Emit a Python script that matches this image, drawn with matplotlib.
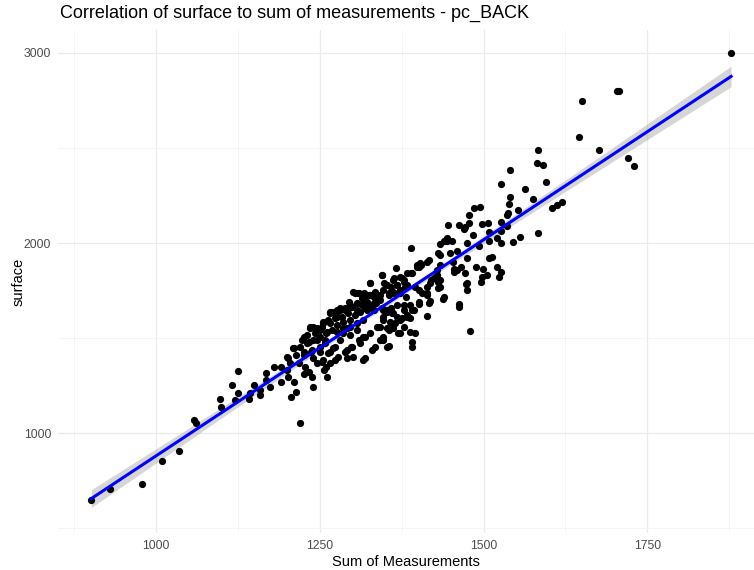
import numpy as np
import matplotlib
matplotlib.use("Agg")
import matplotlib.pyplot as plt
from matplotlib.ticker import FixedLocator

plt.rcParams['font.family'] = ['Liberation Sans', 'DejaVu Sans']

low_tail = [(901, 647), (929, 707), (978, 732), (1009, 854), (1035, 907), (1057, 1068), (1061, 1051),
            (1098, 1177), (1099, 1139), (1115, 1253), (1120, 1174), (1125, 1209), (1125, 1328),
            (1142, 1177), (1144, 1209), (1149, 1253), (1158, 1200), (1159, 1226), (1167, 1314),
            (1168, 1279), (1174, 1244), (1180, 1346), (1191, 1270), (1201, 1296), (1210, 1270),
            (1214, 1218), (1206, 1191), (1219, 1051), (1218, 1367), (1228, 1349), (1233, 1323),
            (1238, 1297), (1240, 1244), (1226, 1311), (1190, 1349), (1199, 1332), (1205, 1367),
            (1246, 1367), (1256, 1332), (1260, 1349), (1253, 1376), (1261, 1297)]

cluster_left = [(1309, 1735), (1321, 1727), (1316, 1683), (1296, 1674), (1306, 1648), (1293, 1630),
                (1281, 1648), (1276, 1613), (1265, 1630), (1265, 1578), (1255, 1578), (1240, 1560),
                (1235, 1551), (1250, 1542), (1260, 1525), (1276, 1534), (1286, 1551), (1296, 1560),
                (1306, 1578), (1316, 1595), (1321, 1657), (1319, 1507), (1311, 1472), (1316, 1385),
                (1298, 1455), (1288, 1429), (1278, 1402), (1270, 1446), (1258, 1472), (1245, 1490),
                (1230, 1472), (1220, 1455), (1209, 1446), (1202, 1393), (1214, 1411), (1225, 1429),
                (1237, 1429), (1250, 1429), (1263, 1420), (1273, 1385), (1255, 1385), (1240, 1393),
                (1291, 1393), (1301, 1402), (1265, 1367)]

cluster_mid = [(1366, 1867), (1345, 1832), (1383, 1841), (1375, 1814), (1362, 1806), (1327, 1788),
               (1348, 1788), (1367, 1779), (1380, 1770), (1373, 1735), (1355, 1735), (1342, 1727),
               (1334, 1744), (1327, 1727), (1306, 1735), (1301, 1744), (1314, 1709), (1322, 1683),
               (1294, 1692), (1299, 1665), (1289, 1648), (1281, 1656), (1276, 1639), (1266, 1639),
               (1283, 1613), (1273, 1604), (1263, 1595), (1255, 1586), (1253, 1560), (1245, 1551),
               (1235, 1560), (1243, 1525), (1230, 1516), (1225, 1507), (1222, 1490), (1233, 1481),
               (1240, 1490), (1250, 1507), (1261, 1534), (1268, 1542), (1276, 1569), (1286, 1586),
               (1296, 1595), (1304, 1621), (1311, 1639), (1319, 1656), (1327, 1665), (1332, 1683),
               (1337, 1700), (1345, 1656), (1352, 1639), (1360, 1630), (1367, 1613), (1375, 1604),
               (1383, 1621), (1378, 1560), (1370, 1525), (1362, 1551), (1355, 1542), (1347, 1507),
               (1342, 1490), (1334, 1455), (1329, 1437), (1352, 1455), (1319, 1393), (1299, 1455),
               (1291, 1437), (1281, 1490), (1273, 1455), (1266, 1428), (1258, 1490), (1250, 1455),
               (1238, 1437), (1210, 1446), (1199, 1402), (1225, 1411), (1309, 1490), (1316, 1507),
               (1327, 1525), (1337, 1560), (1347, 1595), (1306, 1542), (1296, 1516), (1291, 1551),
               (1286, 1525)]

cluster_upper = [(1399, 1884), (1391, 1841), (1373, 1823), (1378, 1806), (1363, 1814), (1368, 1779),
                 (1383, 1779), (1358, 1770), (1347, 1753), (1345, 1832), (1327, 1788), (1304, 1735),
                 (1317, 1735), (1325, 1727), (1332, 1718), (1322, 1692), (1314, 1674), (1307, 1683),
                 (1297, 1665), (1289, 1656), (1276, 1648), (1269, 1639), (1335, 1683), (1342, 1700),
                 (1355, 1727), (1363, 1735), (1373, 1744), (1381, 1718), (1388, 1674), (1393, 1648),
                 (1401, 1692), (1368, 1674), (1358, 1656), (1347, 1648), (1332, 1648), (1322, 1648),
                 (1378, 1648)]

cluster_right = [(1473, 1784), (1496, 1796), (1438, 1703), (1463, 1679), (1462, 1665), (1414, 1616),
                 (1480, 1538), (1418, 1696), (1416, 1682), (1401, 1679), (1395, 1770), (1406, 1735),
                 (1413, 1735), (1418, 1787), (1431, 1796), (1434, 1770), (1378, 1673), (1390, 1647),
                 (1383, 1612), (1388, 1603), (1373, 1595), (1365, 1577), (1357, 1586), (1347, 1612),
                 (1352, 1647), (1362, 1630), (1342, 1559), (1352, 1551), (1360, 1551), (1373, 1524),
                 (1388, 1533), (1395, 1528), (1390, 1480), (1390, 1454), (1347, 1489), (1355, 1458),
                 (1378, 1796), (1373, 1752), (1362, 1744), (1352, 1779)]

upper_band = [(1389, 1972), (1445, 2095), (1462, 2095), (1439, 2008), (1444, 2008), (1452, 2011),
              (1434, 1995), (1430, 1950), (1434, 1937), (1449, 1946), (1460, 1960), (1475, 1999),
              (1475, 1920), (1416, 1911), (1414, 1902), (1403, 1893), (1401, 1872), (1389, 1841),
              (1453, 1902), (1455, 1862), (1459, 1858), (1472, 1841), (1429, 1832), (1434, 1806),
              (1431, 1762), (1419, 1806), (1414, 1771), (1475, 1788), (1475, 1753), (1439, 1718),
              (1401, 1753), (1414, 1727), (1493, 1984), (1509, 2012), (1404, 1884), (1398, 1876),
              (1429, 1858), (1434, 1884), (1455, 1849), (1465, 1872), (1488, 1872), (1499, 1862),
              (1498, 1819), (1509, 1919), (1513, 1928), (1521, 1876), (1526, 1849), (1523, 1823),
              (1505, 1832), (1424, 1814)]

high_tail = [(1494, 2187), (1486, 2182), (1477, 2147), (1477, 2103), (1472, 2082), (1470, 2072),
             (1498, 2100), (1506, 2103), (1509, 2059), (1526, 2065), (1536, 2089), (1484, 2042),
             (1521, 2024), (1444, 2025),
             (1878, 3001), (1704, 2800), (1707, 2800), (1651, 2747), (1645, 2559), (1676, 2489),
             (1721, 2447), (1730, 2404), (1583, 2488), (1582, 2419), (1590, 2412), (1541, 2383),
             (1527, 2310), (1596, 2319), (1563, 2284), (1540, 2240), (1575, 2233), (1539, 2203),
             (1552, 2174), (1537, 2159), (1535, 2146), (1605, 2184), (1612, 2202), (1619, 2214),
             (1526, 2112), (1583, 2054), (1555, 2033), (1545, 2005), (1527, 1998)]

x_major = [1000, 1250, 1500, 1750]
x_minor = [875, 1125, 1375, 1625, 1875]
y_major = [1000, 2000, 3000]
y_minor = [500, 1500, 2500]

pts = np.array(low_tail + cluster_left + cluster_mid + cluster_upper +
               cluster_right + upper_band + high_tail, dtype=float)
x = pts[:, 0]
y = pts[:, 1]

# linear fit with 95% confidence band (like geom_smooth(method='lm'))
b, a = np.polyfit(x, y, 1)
n = len(x)
resid = y - (a + b * x)
s = np.sqrt(np.sum(resid ** 2) / (n - 2))
sxx = np.sum((x - x.mean()) ** 2)
xf = np.linspace(x.min(), x.max(), 200)
yf = a + b * xf
se = s * np.sqrt(1.0 / n + (xf - x.mean()) ** 2 / sxx)
tval = 1.966

fig = plt.figure(figsize=(7.54, 5.70), dpi=100)
ax = fig.add_axes([58 / 754, 37 / 570, 696 / 754, 503 / 570])

ax.fill_between(xf, yf - tval * se, yf + tval * se, color='#999999', alpha=0.4, lw=0, zorder=2)
ax.scatter(x, y, s=27, color='black', lw=0, zorder=3)
ax.plot(xf, yf, color='#0000FF', lw=2.2, zorder=4)

ax.set_xlim(850, 1913)
ax.set_ylim(474, 3121)
ax.xaxis.set_major_locator(FixedLocator(x_major))
ax.xaxis.set_minor_locator(FixedLocator(x_minor))
ax.yaxis.set_major_locator(FixedLocator(y_major))
ax.yaxis.set_minor_locator(FixedLocator(y_minor))
ax.grid(which='major', color='#EBEBEB', lw=0.9, zorder=0)
ax.grid(which='minor', color='#F2F2F2', lw=0.5, zorder=0)
ax.set_axisbelow(True)
for sp in ax.spines.values():
    sp.set_visible(False)
ax.tick_params(which='both', length=0, labelsize=8.8, labelcolor='#4D4D4D')
ax.tick_params(axis='x', pad=5)
ax.tick_params(axis='y', pad=5)

ax.set_xlabel('Sum of Measurements', fontsize=10.5, labelpad=2)
ax.set_ylabel('surface', fontsize=10.5, labelpad=-1)
fig.text(60 / 754, 1 - 13 / 570, 'Correlation of surface to sum of measurements - pc_BACK',
         fontsize=13, ha='left', va='center')

fig.savefig('out.png', dpi=100)
